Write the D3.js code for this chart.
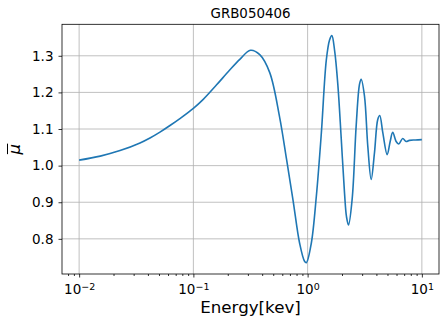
<!DOCTYPE html>
<html>
<head>
<meta charset="utf-8">
<script src="https://cdn.jsdelivr.net/npm/d3@7"></script>
<style>
  body { margin: 0; background: #fff; }
  svg { display: block; font-family: "DejaVu Sans", sans-serif; }
  .grid line { stroke: #b0b0b0; stroke-width: 0.8; }
  .axis path { display: none; }
  .axis line { stroke: #000; stroke-width: 0.8; }
  .axis text { font-size: 13.5px; fill: #000; font-family: "DejaVu Sans", sans-serif; }
</style>
</head>
<body>
<div class="main"></div>
<script>
// energy in keV and the mean mu
const energy = [0.01, 0.0153, 0.0228, 0.0341, 0.0417, 0.051, 0.0624, 0.0762, 0.1, 0.122,
    0.159, 0.208, 0.255, 0.316, 0.381, 0.466, 0.569, 0.652, 0.745, 0.851,
    0.942, 0.975, 1.077, 1.191, 1.318, 1.457, 1.556, 1.63, 1.722, 1.84,
    1.968, 2.104, 2.19, 2.28, 2.456, 2.662, 2.844, 2.942, 3.146, 3.363,
    3.6, 3.847, 4.11, 4.28, 4.55, 4.97, 5.28, 5.56, 5.95, 6.27,
    6.8, 7.28, 7.78, 8.77, 10];
const mu = [1.015, 1.026, 1.041, 1.062, 1.0755, 1.0915, 1.1095, 1.1285, 1.1565, 1.181,
    1.220, 1.261, 1.290, 1.315, 1.303, 1.254, 1.132, 1.02, 0.906, 0.788,
    0.738, 0.735, 0.788, 0.915, 1.088, 1.288, 1.343, 1.355, 1.315, 1.22,
    1.075, 0.925, 0.86, 0.838, 0.91, 1.11, 1.222, 1.236, 1.19, 1.053,
    0.962, 1.035, 1.126, 1.137, 1.09, 1.03, 1.066, 1.091, 1.066, 1.059,
    1.074, 1.066, 1.069, 1.070, 1.071];
const xTicks = [0.01, 0.1, 1, 10];
const xTickExp = ["\u22122", "\u22121", "0", "1"];
const yTicks = [0.8, 0.9, 1.0, 1.1, 1.2, 1.3];

const w = 448;
const h = 327;
const m = { left: 62, right: 9, top: 24.3, bottom: 53 };

const svg = d3.select(".main").append("svg").attr("width", w).attr("height", h);

// matplotlib style 5% margins
const lx = d3.extent(energy).map(Math.log10);
const lpad = (lx[1] - lx[0]) * 0.05;
const ye = d3.extent(mu);
const ypad = (ye[1] - ye[0]) * 0.05;

const xScale = d3.scaleLog()
    .domain([Math.pow(10, lx[0] - lpad), Math.pow(10, lx[1] + lpad)])
    .range([m.left, w - m.right]);
const yScale = d3.scaleLinear()
    .domain([ye[0] - ypad, ye[1] + ypad])
    .range([h - m.bottom, m.top]);

// minor ticks for the log axis
const minor = [];
[0.001, 0.01, 0.1, 1, 10].forEach((d) => {
    for (let k = 2; k < 10; k++) {
        const v = d * k;
        if (v >= xScale.domain()[0] && v <= xScale.domain()[1]) minor.push(v);
    }
});

// grid
svg.append("g").attr("class", "grid")
    .selectAll("line").data(xTicks).enter().append("line")
    .attr("x1", (d) => xScale(d)).attr("x2", (d) => xScale(d))
    .attr("y1", m.top).attr("y2", h - m.bottom);
svg.append("g").attr("class", "grid")
    .selectAll("line").data(yTicks).enter().append("line")
    .attr("x1", m.left).attr("x2", w - m.right)
    .attr("y1", (d) => yScale(d)).attr("y2", (d) => yScale(d));

// axes
svg.append("g").attr("class", "axis")
    .attr("transform", `translate(0,${h - m.bottom})`)
    .call(d3.axisBottom(xScale).tickValues(minor).tickSize(2).tickFormat(""));

const xAx = svg.append("g").attr("class", "axis")
    .attr("transform", `translate(0,${h - m.bottom})`)
    .call(d3.axisBottom(xScale).tickValues(xTicks).tickSize(3.5).tickPadding(5).tickFormat(""));
xAx.selectAll(".tick text").each(function (d, i) {
    const t = d3.select(this).attr("dy", "0.87em");
    t.append("tspan").text("10");
    t.append("tspan").attr("dy", "-0.45em").attr("font-size", "9.5px").text(xTickExp[i]);
});

svg.append("g").attr("class", "axis")
    .attr("transform", `translate(${m.left},0)`)
    .call(d3.axisLeft(yScale).tickValues(yTicks).tickSize(3.5).tickPadding(5)
        .tickFormat(d3.format(".1f")));

// frame
svg.append("rect")
    .attr("x", m.left).attr("y", m.top)
    .attr("width", w - m.left - m.right).attr("height", h - m.top - m.bottom)
    .attr("fill", "none").attr("stroke", "#000").attr("stroke-width", 0.8);

// curve
const line = d3.line()
    .x((d, i) => xScale(energy[i]))
    .y((d) => yScale(d))
    .curve(d3.curveCatmullRom.alpha(0.5));
svg.append("path")
    .datum(mu)
    .attr("d", line)
    .attr("fill", "none")
    .attr("stroke", "#1f77b4")
    .attr("stroke-width", 1.6);

// texts
const cx = (m.left + w - m.right) / 2;
svg.append("text").attr("x", cx).attr("y", 18.3)
    .attr("text-anchor", "middle").attr("font-size", "13.4px").text("GRB050406");
svg.append("text").attr("x", cx).attr("y", 313)
    .attr("text-anchor", "middle").attr("font-size", "16.7px").text("Energy[kev]");

const yl = svg.append("g").attr("transform", `translate(20,${(m.top + h - m.bottom) / 2}) rotate(-90)`);
yl.append("text").attr("x", 0).attr("y", 0)
    .attr("text-anchor", "middle").attr("font-size", "16.7px")
    .attr("font-style", "italic").text("\u03bc");
yl.append("line")
    .attr("x1", -5).attr("x2", 5.5).attr("y1", -12.5).attr("y2", -12.5)
    .attr("stroke", "#000").attr("stroke-width", 1);
</script>
</body>
</html>
